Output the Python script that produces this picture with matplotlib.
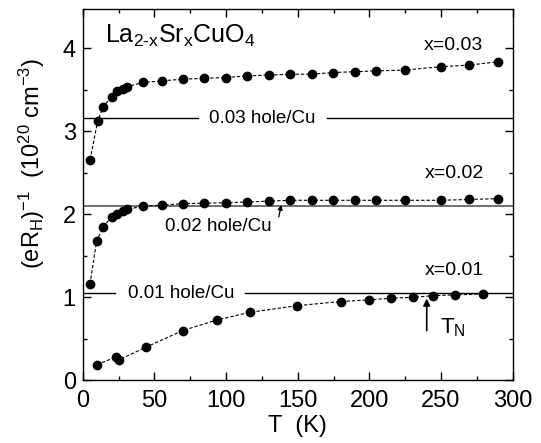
import matplotlib
matplotlib.use("Agg")
import matplotlib.pyplot as plt
from matplotlib.ticker import MultipleLocator

plt.rcParams['font.family'] = ['Liberation Sans', 'DejaVu Sans']
plt.rcParams['mathtext.fontset'] = 'custom'
plt.rcParams['mathtext.rm'] = 'Liberation Sans'
plt.rcParams['mathtext.it'] = 'Liberation Sans:italic'
plt.rcParams['mathtext.bf'] = 'Liberation Sans:bold'

# x = 0.03
T03 = [5.1, 10.5, 14.4, 20.2, 24.2, 28.4, 30.7, 42.3, 55.1, 70.2, 84.7, 99.8,
       114.9, 130.0, 144.7, 159.8, 174.9, 190.0, 204.7, 225.0, 249.8, 269.6, 290.0]
V03 = [2.66, 3.13, 3.30, 3.42, 3.49, 3.51, 3.54, 3.59, 3.61, 3.63, 3.64, 3.65,
       3.67, 3.68, 3.69, 3.69, 3.71, 3.72, 3.73, 3.74, 3.78, 3.80, 3.84]
# x = 0.02
T02 = [5.1, 9.7, 14.4, 20.2, 24.2, 28.4, 30.7, 42.3, 55.0, 70.2, 84.7, 99.8,
       114.9, 130.0, 144.7, 159.8, 174.9, 190.0, 204.7, 225.0, 249.8, 269.6, 290.0]
V02 = [1.16, 1.68, 1.85, 1.97, 2.01, 2.04, 2.06, 2.10, 2.11, 2.13, 2.135, 2.14,
       2.15, 2.16, 2.17, 2.17, 2.17, 2.17, 2.17, 2.17, 2.17, 2.18, 2.19]
# x = 0.01
T01 = [9.9, 23.2, 25.6, 44.2, 69.8, 94.0, 116.8, 149.8, 180.0, 199.8, 214.9,
       230.3, 244.7, 259.8, 279.6]
V01 = [0.19, 0.28, 0.25, 0.40, 0.60, 0.73, 0.82, 0.90, 0.95, 0.97, 0.99,
       1.00, 1.02, 1.03, 1.04]

hole_levels = [3.16, 2.106, 1.05]
hole_labels = ['0.03 hole/Cu', '0.02 hole/Cu', '0.01 hole/Cu']
series_labels = ['x=0.03', 'x=0.02', 'x=0.01']

fig = plt.figure(figsize=(5.41, 4.43), dpi=100)
ax = fig.add_axes([0.1529, 0.1415, 0.7948, 0.8371])

ax.set_xlim(0, 300)
ax.set_ylim(0, 4.47)

# reference lines
ax.plot([0, 80.5], [hole_levels[0]] * 2, color='black', lw=1.0)
ax.plot([170.3, 300], [hole_levels[0]] * 2, color='black', lw=1.0)
ax.axhline(hole_levels[1], color='#707070', lw=1.4)
ax.plot([0, 22.5], [hole_levels[2]] * 2, color='black', lw=1.0)
ax.plot([113.3, 300], [hole_levels[2]] * 2, color='black', lw=1.0)

ls = (0, (3, 1.8))
for T, V in [(T03, V03), (T02, V02), (T01, V01)]:
    ax.plot(T, V, color='black', lw=0.8, linestyle=ls, marker='o',
            markersize=6, markerfacecolor='black', markeredgecolor='black')

fs_small = 13.5
ax.text(125.3, hole_levels[0], hole_labels[0], ha='center', va='center', fontsize=fs_small)
ax.text(94.6, 1.853, hole_labels[1], ha='center', va='center', fontsize=fs_small)
ax.text(68.5, hole_levels[2], hole_labels[2], ha='center', va='center', fontsize=fs_small)
ax.annotate('', xy=(138.5, 2.115), xytext=(136.8, 1.97),
            arrowprops=dict(arrowstyle='-|>', color='black', lw=0.9,
                            mutation_scale=7, shrinkA=0, shrinkB=0))

fs_x = 14
ax.text(258.5, 4.04, series_labels[0], ha='center', va='center', fontsize=fs_x)
ax.text(259, 2.49, series_labels[1], ha='center', va='center', fontsize=fs_x)
ax.text(259, 1.32, series_labels[2], ha='center', va='center', fontsize=fs_x)

ax.text(15.6, 4.065, r'$\mathrm{La_{2\text{-}x}Sr_xCuO_4}$', ha='left', va='baseline', fontsize=18)

# T_N arrow
ax.annotate('', xy=(240, 0.985), xytext=(240, 0.60),
            arrowprops=dict(arrowstyle='-|>', color='black', lw=1.2,
                            mutation_scale=10, shrinkA=0, shrinkB=0))
ax.text(249.5, 0.565, r'$\mathrm{T_N}$', ha='left', va='baseline', fontsize=16)

ax.set_xlabel('T  (K)', fontsize=17, labelpad=2)
fig.text(31.5 / 541, 1 - 163 / 443, r'$\mathrm{(eR_H)^{-1}\ \ (10^{20}\ cm^{-3})}$',
         rotation=90, ha='center', va='center', fontsize=17)

ax.xaxis.set_major_locator(MultipleLocator(50))
ax.xaxis.set_minor_locator(MultipleLocator(25))
ax.yaxis.set_major_locator(MultipleLocator(1))
ax.yaxis.set_minor_locator(MultipleLocator(0.5))
ax.tick_params(which='both', direction='in', top=True, right=True, width=1.0)
ax.tick_params(which='major', length=5.5, labelsize=17)
ax.tick_params(axis='x', which='major', pad=7)
ax.tick_params(axis='y', which='major', pad=5)
ax.tick_params(which='minor', length=3)
for s in ax.spines.values():
    s.set_linewidth(1.0)

fig.savefig('out.png', dpi=100)
